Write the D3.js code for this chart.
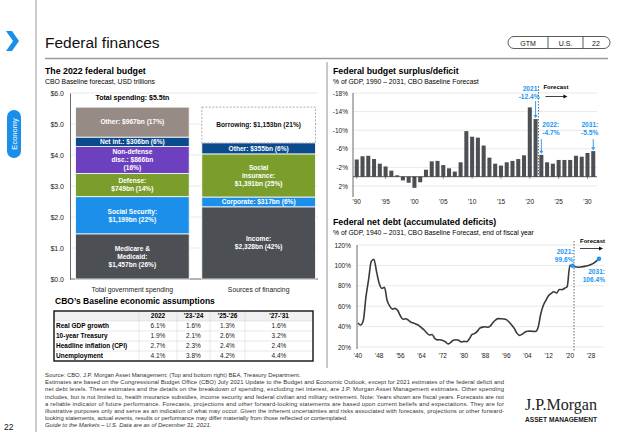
<!DOCTYPE html>
<html><head><meta charset="utf-8">
<script src="https://cdn.jsdelivr.net/npm/d3@7"></script>
<style>
html,body{margin:0;padding:0;background:#fff;}
svg{display:block;font-family:"Liberation Sans",Arial,sans-serif;}
</style></head>
<body>
<svg id="c" width="617" height="432"></svg>
<script>
// ---------- DATA ----------
const spendCats = ["Medicare & Medicaid","Social Security","Defense","Non-defense disc.","Net int.","Other"];
const spendVals = [1.457,1.199,0.749,0.866,0.306,0.967];
const spendLabels = [["Medicare &","Medicaid:","$1,457bn (26%)"],["Social Security:","$1,199bn (22%)"],["Defense:","$749bn (14%)"],["Non-defense","disc.: $866bn","(16%)"],["Net int.: $306bn (6%)"],["Other: $967bn (17%)"]];
const finCats = ["Income","Corporate","Social insurance","Other","Borrowing"];
const finVals = [2.328,0.317,1.391,0.355,1.153];
const finLabels = [["Income:","$2,328bn (42%)"],["Corporate: $317bn (6%)"],["Social","insurance:","$1,391bn (25%)"],["Other: $355bn (6%)"],["Borrowing: $1,153bn (21%)"]];
const barCats = ["Total government spending","Sources of financing"];
const budgetTicks = [0,1,2,3,4,5,6];

const defYears = d3.range(1990,2032);
const defVals = [-3.7,-4.4,-4.5,-3.8,-2.8,-2.2,-1.3,-0.3,0.8,1.3,2.4,1.2,-1.5,-3.3,-3.4,-2.5,-1.8,-1.1,-3.1,-9.8,-8.6,-8.4,-6.7,-4.1,-2.8,-2.4,-3.1,-3.4,-3.8,-4.6,-14.9,-12.4,-4.7,-3.1,-2.8,-3.6,-3.6,-3.6,-4.5,-4.3,-5.1,-5.5];
const defTicks = [-18,-14,-10,-6,-2,2];
const defXTicks = [1990,1995,2000,2005,2010,2015,2020,2025,2030];

const debtYears = d3.range(1940,2032);
const debtVals = [43.6,41.5,45.9,69.2,86.1,103.9,106.1,93.9,82.4,77.4,78.5,65.5,60.1,57.1,57.9,55.7,50.6,47.2,47.7,46.4,44.3,43.5,42.3,41.0,38.7,36.7,33.7,31.8,32.2,28.3,27.0,27.1,26.4,25.1,23.1,24.5,26.7,27.1,26.6,24.9,25.5,25.2,27.9,32.1,33.1,35.3,38.4,39.5,39.8,39.3,40.8,44.0,46.6,47.8,47.7,47.5,46.8,44.5,41.6,38.2,33.6,31.4,32.5,34.5,35.5,35.6,35.3,35.2,39.2,52.3,60.9,65.9,70.4,72.6,74.1,72.9,76.4,76.2,77.6,79.4,100.1,99.6,98.6,98.2,98.4,98.8,99.3,99.9,100.9,102.3,104.2,106.4];
const debtTicks = [20,40,60,80,100,120];
const debtXTicks = [1940,1948,1956,1964,1972,1980,1988,1996,2004,2012,2020,2028];

const tblCols = ["2022","'23-'24","'25-'26","'27-'31"];
const tblRows = ["Real GDP growth","10-year Treasury","Headline inflation (CPI)","Unemployment"];
const tblVals = [["6.1%","1.6%","1.3%","1.6%"],["1.9%","2.1%","2.6%","3.2%"],["2.7%","2.3%","2.4%","2.4%"],["4.1%","3.8%","4.2%","4.4%"]];

const footLines = [
"Source: CBO, J.P. Morgan Asset Management; (Top and bottom right) BEA, Treasury Department.",
"Estimates are based on the Congressional Budget Office (CBO) July 2021 Update to the Budget and Economic Outlook, except for 2021 estimates of the federal deficit and",
"net debt levels. These estimates and the details on the breakdown of spending, excluding net interest, are J.P. Morgan Asset Management estimates. Other spending",
"includes, but is not limited to, health insurance subsidies, income security and federal civilian and military retirement. Note: Years shown are fiscal years. Forecasts are not",
"a reliable indicator of future performance. Forecasts, projections and other forward-looking statements are based upon current beliefs and expectations. They are for",
"illustrative purposes only and serve as an indication of what may occur. Given the inherent uncertainties and risks associated with forecasts, projections or other forward-",
"looking statements, actual events, results or performance may differ materially from those reflected or contemplated.",
"Guide to the Markets – U.S. Data are as of December 31, 2021."];

// ---------- STYLE ----------
const C = {dark:"#4c4f53", blue:"#1b8fea", green:"#7a9d2c", purple:"#6c40bf", navy:"#0b4a8c", taupe:"#978b86", accent:"#2196f3", grid:"#dadada"};
const spendColors = [C.dark,C.blue,C.green,C.purple,C.navy,C.taupe];
const finColors = [C.dark,C.blue,C.green,C.navy,"#fff"];

const svg = d3.select("#c");

// ---------- HEADER / FRAME ----------
svg.append("path").attr("d","M6,31 L12,31 L19,41 L12,51 L6,51 L13,41 Z").attr("fill","#1a8fea");
svg.append("line").attr("x1",36).attr("x2",36).attr("y1",0).attr("y2",432).attr("stroke","#9a9a9a").attr("stroke-width",1);
svg.append("text").attr("x",45).attr("y",48).attr("font-size",15.5).attr("fill","#111").text("Federal finances");
svg.append("line").attr("x1",45).attr("x2",608).attr("y1",58.5).attr("y2",58.5).attr("stroke","#9a9a9a").attr("stroke-width",1.5);
svg.append("rect").attr("x",508).attr("y",36.5).attr("width",102).attr("height",12).attr("rx",6).attr("fill","none").attr("stroke","#333").attr("stroke-width",0.8);
[548,583].forEach(x=>svg.append("line").attr("x1",x).attr("x2",x).attr("y1",36.5).attr("y2",48.5).attr("stroke","#333").attr("stroke-width",0.8));
[["GTM",528],["U.S.",565.5],["22",596]].forEach(([t,x])=>svg.append("text").attr("x",x).attr("y",45.5).attr("text-anchor","middle").attr("font-size",7).attr("fill","#111").text(t));
// sidebar
svg.append("rect").attr("x",7).attr("y",110).attr("width",14).attr("height",48).attr("rx",7).attr("fill","#1a8fea");
svg.append("text").attr("transform","translate(16.5,134) rotate(-90)").attr("text-anchor","middle").attr("font-size",7.5).attr("fill","#fff").text("Economy");
svg.append("text").attr("x",4).attr("y",430).attr("font-size",8.5).attr("fill","#111").text("22");
// panel separator
svg.append("line").attr("x1",327).attr("x2",327).attr("y1",62).attr("y2",368).attr("stroke","#777").attr("stroke-width",0.8);

// ---------- LEFT: BUDGET STACKED BARS ----------
svg.append("text").attr("x",45).attr("y",74).attr("font-size",8.8).attr("font-weight","bold").text("The 2022 federal budget");
svg.append("text").attr("x",45).attr("y",84).attr("font-size",6.8).text("CBO Baseline forecast, USD trillions");
const yB = d3.scaleLinear().domain([0,6]).range([279,93]);
const xB = d3.scaleBand().domain(barCats).range([73,318]).paddingInner(0.1).paddingOuter(0.02);
const gB = svg.append("g");
gB.selectAll(".g").data(budgetTicks.slice(1)).join("line").attr("x1",70).attr("x2",318).attr("y1",d=>yB(d)).attr("y2",d=>yB(d)).attr("stroke",C.grid).attr("stroke-width",0.6);
const axB = gB.append("g").attr("transform","translate(70,0)").call(d3.axisLeft(yB).tickValues(budgetTicks).tickSize(0).tickPadding(6).tickFormat(d=>"$"+d3.format(".1f")(d)));
axB.select(".domain").attr("stroke","#444").attr("stroke-width",0.8);
axB.selectAll("text").attr("font-size",7).attr("fill","#222").attr("font-family","Liberation Sans");
gB.append("line").attr("x1",70).attr("x2",318).attr("y1",yB(0)).attr("y2",yB(0)).attr("stroke","#444").attr("stroke-width",0.8);

function stack(vals, labels, colors, cat, darkIdx){
  let cum=0;
  const segs = vals.map((v,i)=>{const s={v,i,y0:cum,y1:cum+v}; cum+=v; return s;});
  const x = xB(cat), w = xB.bandwidth();
  segs.forEach(s=>{
    const isBorrow = colors[s.i]==="#fff";
    gB.append("rect").attr("x",x).attr("y",yB(s.y1)).attr("width",w).attr("height",yB(s.y0)-yB(s.y1))
      .attr("fill",colors[s.i]).attr("stroke",isBorrow?"#9a9a9a":"#fff").attr("stroke-width",isBorrow?0.8:0.8)
      .attr("stroke-dasharray",isBorrow?"2,1.5":null);
    const lines = labels[s.i];
    const cy = (yB(s.y0)+yB(s.y1))/2;
    const lh = 8;
    const t = gB.append("text").attr("text-anchor","middle").attr("font-size",6.6).attr("font-weight","bold")
      .attr("fill",isBorrow?"#111":"#fff");
    lines.forEach((ln,k)=>t.append("tspan").attr("x",x+w/2).attr("y",cy+(k-(lines.length-1)/2)*lh+2.3).text(ln));
  });
  return cum;
}
const totS = stack(spendVals,spendLabels,spendColors,barCats[0]);
stack(finVals,finLabels,finColors,barCats[1]);
gB.append("text").attr("x",xB(barCats[0])+xB.bandwidth()/2).attr("y",yB(totS)-7).attr("text-anchor","middle").attr("font-size",7).attr("font-weight","bold").text("Total spending: $5.5tn");
barCats.forEach(c=>gB.append("text").attr("x",xB(c)+xB.bandwidth()/2).attr("y",292).attr("text-anchor","middle").attr("font-size",6.8).attr("fill","#222").text(c));

// ---------- TABLE ----------
svg.append("text").attr("x",55).attr("y",304).attr("font-size",8.5).attr("font-weight","bold").text("CBO\u2019s Baseline economic assumptions");
const tX=54,tY=311,tW=259,rh=10;
const colX = [139,177,210,245,313];
const gT = svg.append("g");
gT.append("rect").attr("x",tX).attr("y",tY).attr("width",tW).attr("height",rh).attr("fill","#f0f0f0");
for(let r=1;r<=4;r++) gT.append("line").attr("x1",tX).attr("x2",tX+tW).attr("y1",tY+r*rh).attr("y2",tY+r*rh).attr("stroke","#d0d0d0").attr("stroke-width",0.5);
colX.slice(0,4).forEach(x=>gT.append("line").attr("x1",x).attr("x2",x).attr("y1",tY).attr("y2",tY+5*rh).attr("stroke","#d0d0d0").attr("stroke-width",0.5));
gT.append("rect").attr("x",tX).attr("y",tY).attr("width",tW).attr("height",5*rh).attr("fill","none").attr("stroke","#111").attr("stroke-width",1.4);
tblCols.forEach((c,j)=>gT.append("text").attr("x",(colX[j]+colX[j+1])/2).attr("y",tY+7.3).attr("text-anchor","middle").attr("font-size",6.5).attr("font-weight","bold").text(c));
tblRows.forEach((r,i)=>{
  gT.append("text").attr("x",tX+2).attr("y",tY+(i+1)*rh+7.3).attr("font-size",6.5).attr("font-weight","bold").text(r);
  tblVals[i].forEach((v,j)=>gT.append("text").attr("x",(colX[j]+colX[j+1])/2).attr("y",tY+(i+1)*rh+7.3).attr("text-anchor","middle").attr("font-size",6.5).attr("fill","#222").text(v));
});

// ---------- TOP RIGHT: DEFICIT ----------
svg.append("text").attr("x",333).attr("y",74).attr("font-size",8.8).attr("font-weight","bold").text("Federal budget surplus/deficit");
svg.append("text").attr("x",333).attr("y",84).attr("font-size",6.8).text("% of GDP, 1990 \u2013 2031, CBO Baseline Forecast");
const yD = d3.scaleLinear().domain([2,-18]).range([186,93]);
const xD = d3.scaleBand().domain(defYears).range([353,597]).padding(0.3);
const gD = svg.append("g");
gD.selectAll(".gl").data(defTicks).join("line").attr("x1",353).attr("x2",597).attr("y1",d=>yD(d)).attr("y2",d=>yD(d)).attr("stroke",C.grid).attr("stroke-width",0.6);
gD.selectAll(".bar").data(defYears).join("rect")
  .attr("x",d=>xD(d)).attr("width",xD.bandwidth())
  .attr("y",(d,i)=>Math.min(yD(defVals[i]),yD(0)))
  .attr("height",(d,i)=>Math.abs(yD(defVals[i])-yD(0)))
  .attr("fill",C.dark);
const axD = gD.append("g").attr("transform","translate(353,0)").call(d3.axisLeft(yD).tickValues(defTicks).tickSize(0).tickPadding(5).tickFormat(d=>d+"%"));
axD.select(".domain").remove();
axD.selectAll("text").attr("font-size",6.5).attr("fill","#222").attr("font-family","Liberation Sans");
gD.append("line").attr("x1",353).attr("x2",353).attr("y1",93).attr("y2",197).attr("stroke","#444").attr("stroke-width",0.8);
gD.append("line").attr("x1",353).attr("x2",597).attr("y1",yD(0)).attr("y2",yD(0)).attr("stroke","#333").attr("stroke-width",0.8);
defXTicks.forEach(y=>{
  const cx = xD(y)+xD.bandwidth()/2;
  gD.append("line").attr("x1",cx).attr("x2",cx).attr("y1",yD(0)).attr("y2",yD(0)+2).attr("stroke","#333").attr("stroke-width",0.6);
  gD.append("text").attr("x",cx).attr("y",204).attr("text-anchor","middle").attr("font-size",6.5).attr("fill","#222").text("'"+String(y).slice(2));
});
// forecast divider
const fxD = xD(2021)+xD.step()-(xD.step()-xD.bandwidth())/2;
gD.append("line").attr("x1",fxD).attr("x2",fxD).attr("y1",86).attr("y2",yD(0)).attr("stroke","#444").attr("stroke-width",0.8).attr("stroke-dasharray","1.5,1.5");
gD.append("text").attr("x",fxD+5).attr("y",89).attr("font-size",6).attr("font-weight","bold").text("Forecast");
gD.append("line").attr("x1",fxD+7).attr("x2",fxD+26).attr("y1",96.5).attr("y2",96.5).attr("stroke","#111").attr("stroke-width",0.8);
gD.append("path").attr("d",`M${fxD+29},96.5 l-4,-2 l0,4 z`).attr("fill","#111");
function annot(g,x,yTop,yBot,anchor,tx,ty,lines,arrow){
  const t=g.append("text").attr("text-anchor",anchor).attr("font-size",6.6).attr("font-weight","bold").attr("fill",C.accent);
  lines.forEach((l,k)=>t.append("tspan").attr("x",tx).attr("y",ty+k*8).text(l));
  if(arrow){
    g.append("line").attr("x1",x).attr("x2",x).attr("y1",yTop).attr("y2",yBot-2.5).attr("stroke",C.accent).attr("stroke-width",0.9);
    g.append("path").attr("d",`M${x-2},${yBot-3} L${x+2},${yBot-3} L${x},${yBot} Z`).attr("fill",C.accent);
  }
}
const cxD = y=>xD(y)+xD.bandwidth()/2;
annot(gD,cxD(2021),101,yD(defVals[31])-1,"end",cxD(2021)+4,91,["2021:","-12.4%"],true);
annot(gD,cxD(2022),139,yD(defVals[32])-1,"start",cxD(2022)+1,127,["2022:","-4.7%"],true);
annot(gD,cxD(2031),139,yD(defVals[41])-1,"end",cxD(2031)+5,127,["2031:","-5.5%"],true);

// ---------- BOTTOM RIGHT: DEBT ----------
svg.append("text").attr("x",333).attr("y",225).attr("font-size",8.8).attr("font-weight","bold").text("Federal net debt (accumulated deficits)");
svg.append("text").attr("x",333).attr("y",235).attr("font-size",6.8).text("% of GDP, 1940 \u2013 2031, CBO Baseline Forecast, end of fiscal year");
const yN = d3.scaleLinear().domain([20,120]).range([347,245]);
const xN = d3.scaleLinear().domain([1940,2031]).range([358,599]);
const gN = svg.append("g");
gN.selectAll(".gl").data(debtTicks).join("line").attr("x1",357).attr("x2",604).attr("y1",d=>yN(d)).attr("y2",d=>yN(d)).attr("stroke",C.grid).attr("stroke-width",0.6);
const axN = gN.append("g").attr("transform","translate(357,0)").call(d3.axisLeft(yN).tickValues(debtTicks).tickSize(0).tickPadding(6).tickFormat(d=>d+"%"));
axN.select(".domain").remove();
axN.selectAll("text").attr("font-size",6.5).attr("fill","#222").attr("font-family","Liberation Sans");
gN.append("line").attr("x1",357).attr("x2",357).attr("y1",245).attr("y2",349).attr("stroke","#444").attr("stroke-width",0.8);
debtXTicks.forEach(y=>gN.append("text").attr("x",xN(y)).attr("y",358).attr("text-anchor","middle").attr("font-size",6.5).attr("fill","#222").text("'"+String(y).slice(2)));
const fxN = xN(2021)+1.5;
gN.append("line").attr("x1",fxN).attr("x2",fxN).attr("y1",241).attr("y2",351).attr("stroke","#444").attr("stroke-width",0.8).attr("stroke-dasharray","1.5,1.5");
gN.append("path").datum(debtYears).attr("fill","none").attr("stroke","#3a3a3a").attr("stroke-width",1.6).attr("stroke-linejoin","round")
  .attr("d",d3.line().x(d=>xN(d)).y((d,i)=>yN(debtVals[i])).curve(d3.curveMonotoneX));
[2021,2031].forEach(y=>{const i=debtYears.indexOf(y); gN.append("circle").attr("cx",xN(y)).attr("cy",yN(debtVals[i])).attr("r",2.3).attr("fill",C.accent);});
gN.append("text").attr("x",580).attr("y",243).attr("font-size",6).attr("font-weight","bold").text("Forecast");
gN.append("line").attr("x1",580).attr("x2",600).attr("y1",248.5).attr("y2",248.5).attr("stroke","#111").attr("stroke-width",0.8);
gN.append("path").attr("d","M603,248.5 l-4,-2 l0,4 z").attr("fill","#111");
annot(gN,0,0,0,"end",xN(2021)+1,253.5,["2021:","99.6%"],false);
annot(gN,0,0,0,"end",605,274,["2031:","106.4%"],false);

// ---------- FOOTER ----------
const gF = svg.append("g").attr("font-family","'Liberation Sans Narrow','Liberation Sans',sans-serif").attr("font-size",5.9).attr("fill","#333");
footLines.forEach((l,i)=>{
  const t = gF.append("text").attr("x",45).attr("y",377+i*7.2).text(l);
  if(i>=1 && i<=5) t.attr("textLength",459).attr("lengthAdjust","spacing");
  if(i===7) t.attr("font-style","italic");
});
svg.append("text").attr("x",525).attr("y",410).attr("font-family","'Liberation Serif','DejaVu Serif',serif").attr("font-size",17).attr("textLength",72).attr("lengthAdjust","spacingAndGlyphs").attr("fill","#222").text("J.P.Morgan");
svg.append("text").attr("x",525).attr("y",422).attr("font-size",6.6).attr("font-weight","bold").attr("textLength",72).attr("lengthAdjust","spacingAndGlyphs").attr("fill","#222").text("ASSET MANAGEMENT");
</script>
</body></html>
